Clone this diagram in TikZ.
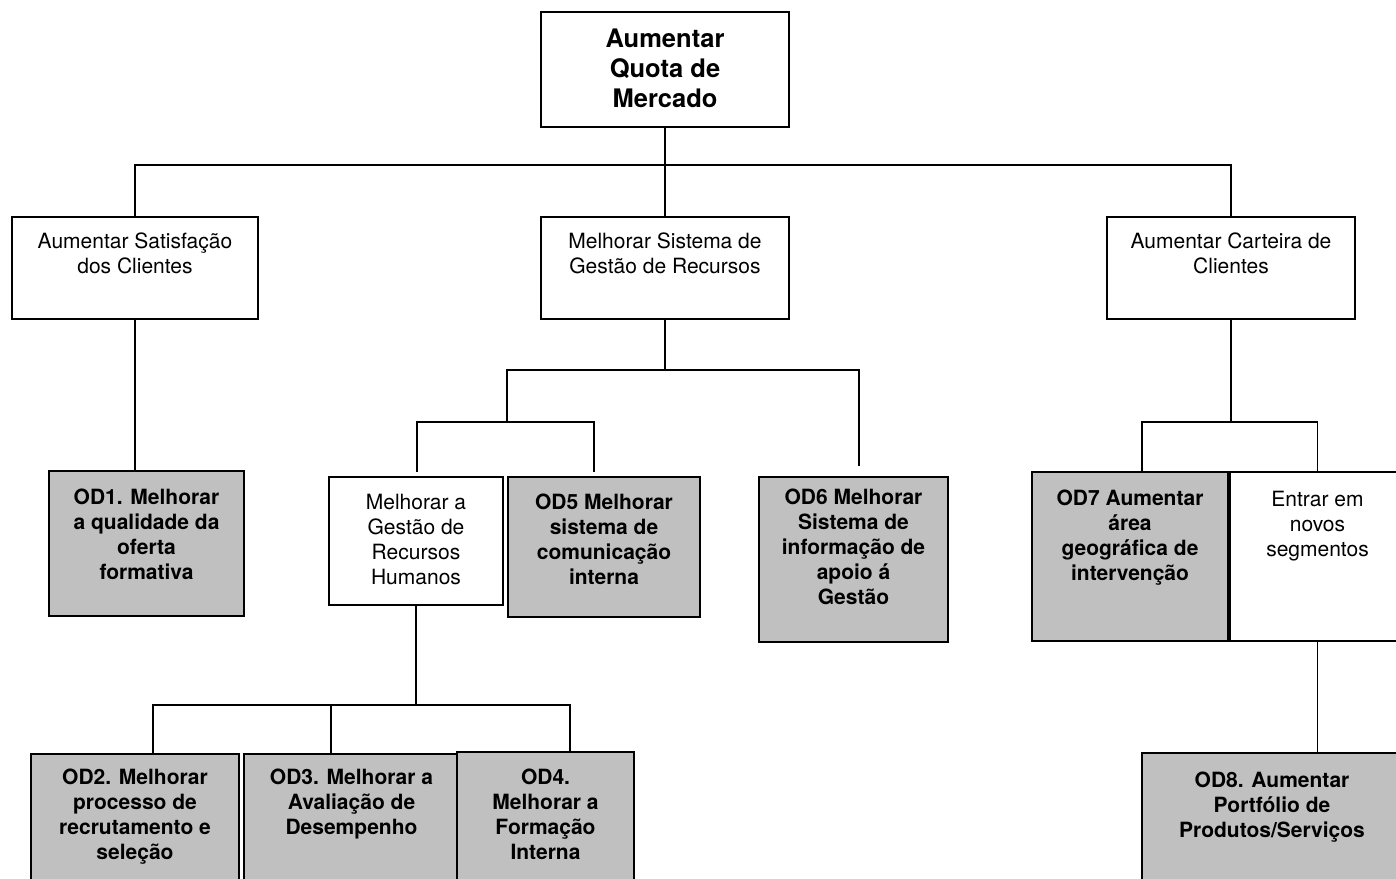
\documentclass[tikz,border=0pt]{standalone}
\usepackage{fontspec}
\setmainfont{TeX Gyre Heros}
\definecolor{odgray}{HTML}{C0C0C0}
% box body: width, height, top padding, text (lines split with \\)
\newcommand\boxbody[4]{\parbox[c][#2pt][t]{#1pt}{\centering\vspace*{#3pt}#4\par}}
\begin{document}
\begin{tikzpicture}[x=1pt,y=-1pt,
  frame/.style={draw=black, line width=2pt, inner sep=0pt, outer sep=0pt, anchor=north west, fill=white},
  head/.style={frame, font=\fontsize{25.5}{30}\selectfont\bfseries},
  area/.style={frame, font=\fontsize{21}{25}\selectfont},
  goal/.style={frame, fill=odgray, font=\fontsize{21}{25}\selectfont\bfseries},
  link/.style={draw=black, line width=1.8pt}]
\useasboundingbox (0,0) rectangle (1396,878);
\clip (0,0) rectangle (1396,878);

% top goal
\node[head] (top) at (541,12) {\boxbody{248}{115}{17}{Aumentar\\Quota de\\Mercado}};

% second level
\node[area] (L2a) at (12,217)   {\boxbody{246}{102}{16}{Aumentar Satisfação\\dos Clientes}};
\node[area] (L2b) at (541,217)  {\boxbody{248}{102}{16}{Melhorar Sistema de\\Gestão de Recursos}};
\node[area] (L2c) at (1107,217) {\boxbody{248}{102}{16}{Aumentar Carteira de\\Clientes}};

% third level
\node[goal] (OD1) at (49,471)  {\boxbody{195}{145}{18}{OD1. Melhorar\\a qualidade da\\oferta\\formativa}};
\node[area] (HR)  at (329,477) {\boxbody{174}{128}{17}{Melhorar a\\Gestão de\\Recursos\\Humanos}};
\node[goal] (OD5) at (508,477) {\boxbody{192}{140}{17}{OD5 Melhorar\\sistema de\\comunicação\\interna}};
\node[goal] (OD6) at (759,477) {\boxbody{189}{165}{12}{OD6 Melhorar\\Sistema de\\informação de\\apoio á\\Gestão}};
\node[goal] (OD7) at (1032,472) {\boxbody{196}{169}{18}{OD7 Aumentar\\área\\geográfica de\\intervenção}};
\node[area] (ENT) at (1230,472) {\boxbody{175}{169}{19}{Entrar em\\novos\\segmentos}};

% bottom level
\node[goal] (OD2) at (31,754)   {\boxbody{208}{150}{15}{OD2. Melhorar\\processo de\\recrutamento e\\seleção}};
\node[goal] (OD3) at (244,754)  {\boxbody{215}{150}{15}{OD3. Melhorar a\\Avaliação de\\Desempenho}};
\node[goal] (OD4) at (457,752)  {\boxbody{177}{152}{17}{OD4.\\Melhorar a\\Formação\\Interna}};
\node[goal] (OD8) at (1142,753) {\boxbody{260}{150}{19}{OD8. Aumentar\\Portfólio de\\Produtos/Serviços}};

% junction points of the tree
\coordinate (r3) at (L2c.north |- 0,165);
\coordinate (mj) at (665,370);
\coordinate (a1) at (507,422);
\coordinate (a2) at (859,466);
\coordinate (hA) at (417,472);
\coordinate (hB) at (594,472);
\coordinate (rj) at (L2c.south |- 0,422);
\coordinate (rA) at (1142,472);
\coordinate (bj) at (HR.south |- 0,705);
\coordinate (b1) at (153,754);
\coordinate (b2) at (331,754);
\coordinate (b3) at (570,752);

% connectors
\draw[link] (top.south) -- (L2b.north);
\draw[link] (L2a.north) |- (r3) -- (L2c.north);
\draw[link] (L2a.south) -- (L2a.south |- OD1.north);
\draw[link] (L2b.south) -- (mj);
\draw[link] (a1) |- (mj) -| (a2);
\draw[link] (hA) |- (a1) -| (hB);
\draw[link] (L2c.south) -- (rj);
\draw[link] (rA) |- (rj) -| (ENT.north);
\draw[link] (ENT.south) -- (ENT.south |- OD8.north);
\draw[link] (HR.south) -- (bj);
\draw[link] (b1) |- (bj) -| (b3);
\draw[link] (b2) -- (b2 |- bj);
\end{tikzpicture}
\end{document}
